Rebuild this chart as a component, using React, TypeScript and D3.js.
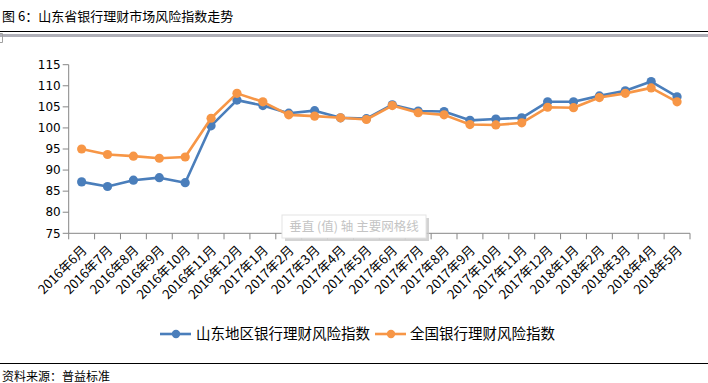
import React from "react";
import * as d3 from "d3";

const categories = [
  "2016年6月", "2016年7月", "2016年8月", "2016年9月", "2016年10月", "2016年11月", "2016年12月",
  "2017年1月", "2017年2月", "2017年3月", "2017年4月", "2017年5月", "2017年6月", "2017年7月",
  "2017年8月", "2017年9月", "2017年10月", "2017年11月", "2017年12月",
  "2018年1月", "2018年2月", "2018年3月", "2018年4月", "2018年5月",
];
const shandong = [
  87.2, 86.1, 87.6, 88.2, 87.0, 100.5, 106.6, 105.3, 103.5, 104.1, 102.4, 102.2,
  105.5, 104.0, 103.9, 101.8, 102.1, 102.4, 106.2, 106.2, 107.6, 108.8, 111.0, 107.4,
];
const national = [
  95.0, 93.7, 93.3, 92.8, 93.1, 102.3, 108.2, 106.2, 103.1, 102.8, 102.4, 102.0,
  105.3, 103.6, 103.1, 100.8, 100.7, 101.2, 104.9, 104.8, 107.2, 108.2, 109.5, 106.2,
];
const yTicks = [75, 80, 85, 90, 95, 100, 105, 110, 115];
const seriesNames = ["山东地区银行理财风险指数", "全国银行理财风险指数"];
const colors = ["#4A7EBB", "#F79646"];

const CJK = "'Noto Sans CJK SC', 'Noto Sans', sans-serif";
const NUM = "'DejaVu Sans', Verdana, sans-serif";

export default function App() {
  const x = d3.scaleBand<string>().domain(categories).range([68.7, 690]);
  const y = d3.scaleLinear().domain([75, 115]).range([233.3, 64.7]);
  const cx = (c: string) => (x(c) as number) + x.bandwidth() / 2;
  const line = d3
    .line<number>()
    .x((_, i) => cx(categories[i]))
    .y((d) => y(d));
  const series = [shandong, national];
  const x0 = 68.7;
  const xEnd = 690;

  return (
    <svg
      width={708}
      height={383}
      style={{ position: "absolute", left: 0, top: 0, background: "#fff" }}
    >
      <rect x={0} y={0} width={708} height={383} fill="#fff" />
      {/* title */}
      <text x={2} y={21} fontFamily={CJK} fontSize={13} fill="#000">
        图 6：山东省银行理财市场风险指数走势
      </text>
      <line x1={0} x2={708} y1={31.5} y2={31.5} stroke="#000" strokeWidth={1} />
      <rect x={0} y={34} width={708} height={3} fill="#b0b0b8" />
      <path d="M0,33.5 H2.5 V42.5 H0" fill="none" stroke="#a0a0a0" strokeWidth={1} />

      {/* y axis */}
      <line x1={x0} x2={x0} y1={y(115)} y2={y(75)} stroke="#868686" strokeWidth={1} />
      {yTicks.map((t) => (
        <g key={t}>
          <line x1={x0 - 6} x2={x0} y1={y(t)} y2={y(t)} stroke="#868686" />
          <text
            x={x0 - 8}
            y={y(t)}
            dy="0.35em"
            textAnchor="end"
            fontFamily={NUM}
            fontSize={12}
            fill="#000"
          >
            {t}
          </text>
        </g>
      ))}

      {/* x axis */}
      <line x1={x0} x2={xEnd} y1={y(75)} y2={y(75)} stroke="#868686" />
      {categories.map((c) => (
        <line
          key={"t" + c}
          x1={x(c) as number}
          x2={x(c) as number}
          y1={y(75)}
          y2={y(75) + 6}
          stroke="#868686"
        />
      ))}
      <line x1={xEnd} x2={xEnd} y1={y(75)} y2={y(75) + 6} stroke="#868686" />
      {categories.map((c) => {
        const ax = cx(c) + 6;
        const ay = 251;
        return (
          <text
            key={"l" + c}
            x={ax}
            y={ay}
            textAnchor="end"
            fontFamily={CJK}
            fontSize={13}
            fill="#000"
            transform={`rotate(-45 ${ax} ${ay})`}
          >
            {c}
          </text>
        );
      })}

      {/* tooltip box */}
      <rect x={285} y={218} width={144} height={23} fill="#c8c8c8" opacity={0.8} />
      <rect x={282} y={215} width={144} height={23} fill="#fff" stroke="#e4e4e4" />
      <text x={354} y={231} textAnchor="middle" fontFamily={CJK} fontSize={12.5} fill="#c4c4c4">
        垂直 (值) 轴 主要网格线
      </text>

      {/* series */}
      {series.map((s, si) => (
        <g key={si}>
          <path d={line(s) || ""} fill="none" stroke={colors[si]} strokeWidth={2.6} strokeLinejoin="round" />
          {s.map((v, i) => (
            <circle key={i} cx={cx(categories[i])} cy={y(v)} r={4.6} fill={colors[si]} />
          ))}
        </g>
      ))}

      {/* legend */}
      {[{ lx: 160, tx: 196 }, { lx: 375, tx: 410 }].map((p, i) => (
        <g key={i}>
          <line x1={p.lx} x2={p.lx + 31} y1={334} y2={334} stroke={colors[i]} strokeWidth={2.6} />
          <circle cx={p.lx + 16} cy={334} r={4.2} fill={colors[i]} />
          <text x={p.tx} y={334} dy="0.36em" fontFamily={CJK} fontSize={14.5} fill="#000">
            {seriesNames[i]}
          </text>
        </g>
      ))}

      {/* footer */}
      <line x1={0} x2={708} y1={363.5} y2={363.5} stroke="#000" strokeWidth={1} />
      <text x={2} y={381} fontFamily={CJK} fontSize={12} fill="#000">
        资料来源：普益标准
      </text>
    </svg>
  );
}
